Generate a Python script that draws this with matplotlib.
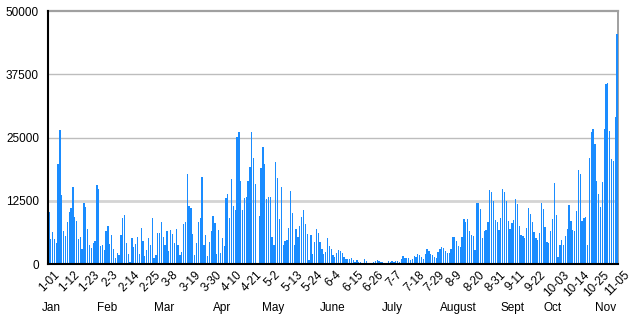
import matplotlib
matplotlib.use("Agg")
import matplotlib.pyplot as plt
import numpy as np

plt.rcParams['font.family'] = ['Liberation Sans', 'DejaVu Sans']

# Daily counts, 1 January through 5 November
jan_feb = [10330, 4940, 6320, 4940, 4150, 19750, 26470, 13630, 6520, 5530,
           8360, 10270, 11060, 15150, 9280, 8490, 4940, 5270, 2960, 11980,
           11320, 6980, 3750, 3090, 4150, 4610, 15540, 14810, 3620, 3750,
           2770, 6520, 7510, 3950, 5660, 2960, 1120, 2110, 1780, 5660,
           9080, 9610, 4150, 1910, 460, 5140, 3360, 3950, 5330, 1910,
           7110, 4610]
feb_apr = [1580, 2770, 5140, 3750, 9080, 1120, 1780, 6120, 6120, 8290,
           5330, 3820, 6520, 2500, 6780, 5920, 4150, 6910, 3750, 1780,
           2370, 7830, 8290, 17780, 11450, 11060, 5860, 1780, 4150, 8360,
           9080, 17120, 3750, 5660, 1580, 4350, 6520, 9480, 8160, 1910,
           6720, 2240, 5200, 3620, 13040, 13830, 9080, 16720, 11450, 10670]
apr_jun = [25140, 26130, 16390, 10670, 12970, 13300, 16330, 19090, 26130, 21000,
           15800, 0, 9480, 18960, 23100, 19750, 12770, 13300, 13170, 5330,
           3750, 20080, 16920, 8950, 15150, 3750, 4480, 4740, 7110, 14420,
           10070, 3750, 6980, 5270, 7440, 9350, 10670, 7900, 5920, 790,
           5730, 2040, 4350, 6910, 6120, 4410, 2960, 2040, 2370, 5070,
           3620, 2960]
jun_jul = [1710, 1380, 2110, 2770, 2630, 2110, 1320, 920, 920, 990,
           1250, 790, 460, 790, 460, 460, 300, 990, 590, 260,
           130, 200, 330, 530, 790, 660, 400, 330, 260, 200,
           660, 330, 660, 460, 660, 530, 330, 920, 1580, 1250,
           1120, 1120, 860, 920, 1580, 1450, 1980, 1780, 1450, 920]
jul_sep = [1980, 2960, 2630, 1980, 1710, 1450, 1190, 2370, 3030, 3290,
           3230, 2630, 2110, 2110, 2960, 5400, 5400, 4540, 3620, 3420,
           5270, 8890, 8230, 8820, 6520, 5800, 5470, 2770, 12050, 11980,
           10930, 5140, 6580, 6720, 8300, 14550, 14150, 12510, 8690, 8230,
           6720, 9150, 14750, 14150, 12440, 8430, 6910, 8160, 8690, 12900,
           11780, 7510, 5730]
sep_nov = [5530, 5070, 7110, 11000, 9880, 8360, 6260, 5140, 4740, 6190,
           12050, 10930, 7370, 4410, 4210, 6450, 8820, 16060, 9680, 1320,
           3750, 4740, 3750, 5600, 6910, 11590, 8490, 6720, 6450, 10400,
           18500, 17780, 8430, 9080, 9220, 3820, 20930, 26000, 26590, 23700,
           16390, 13890, 11260, 16190, 26730, 35550, 35810, 26270, 20670, 20410,
           28970, 45420]

values = jan_feb + feb_apr + apr_jun + jun_jul + jul_sep + sep_nov

date_labels = ['1-01', '1-12', '1-23', '2-3', '2-14', '2-25', '3-8', '3-19',
               '3-30', '4-10', '4-21', '5-2', '5-13', '5-24', '6-4', '6-15',
               '6-26', '7-7', '7-18', '7-29', '8-9', '8-20', '8-31', '9-11',
               '9-22', '10-03', '10-14', '10-25', '11-05']
months = ['Jan', 'Feb', 'Mar', 'Apr', 'May', 'June', 'July', 'August',
          'Sept', 'Oct', 'Nov']
month_label_days = [1.5, 31.8, 62.7, 94, 121.8, 154, 186, 222, 251.3, 273, 302]

y_ticks = [0, 12500, 25000, 37500, 50000]

days = np.arange(len(values))

fig = plt.figure(figsize=(6.4, 3.22), dpi=100)
ax = fig.add_axes([0.075, 0.180, 0.8906, 0.7858])

ax.bar(days, values, width=0.7, color='#1a8cff', linewidth=0, zorder=3)

ax.set_xlim(-0.5, len(values) - 0.5)
ax.set_ylim(0, 50000)

# horizontal guides
ax.axhline(12500, color='#d4d4d4', lw=2.0, zorder=1)
ax.axhline(25000, color='#bdbdbd', lw=1.0, zorder=1)
ax.axhline(37500, color='#bdbdbd', lw=1.0, zorder=1)

ax.set_yticks(y_ticks)
ax.set_yticklabels([str(v) for v in y_ticks])
ax.set_xticks(days[::11])
ax.set_xticklabels(date_labels, rotation=45, ha='center', va='top')
ax.tick_params(axis='both', length=0, labelsize=8.5, colors='#000000')
ax.tick_params(axis='y', pad=6.5)
ax.tick_params(axis='x', pad=3.5)

for s in ['left', 'bottom']:
    ax.spines[s].set_color('#000000')
    ax.spines[s].set_linewidth(1.5)
ax.spines['top'].set_color('#a0a0a0')
ax.spines['top'].set_linewidth(1.6)
ax.spines['right'].set_color('#909090')
ax.spines['right'].set_linewidth(1.2)
ax.spines['left'].set_zorder(5)
ax.spines['bottom'].set_zorder(5)

trans = ax.get_xaxis_transform()
for name, d in zip(months, month_label_days):
    ax.text(d, -0.175, name, transform=trans, ha='center', va='center',
            fontsize=8.5, color='#000000')

fig.savefig('out.png', dpi=100)
